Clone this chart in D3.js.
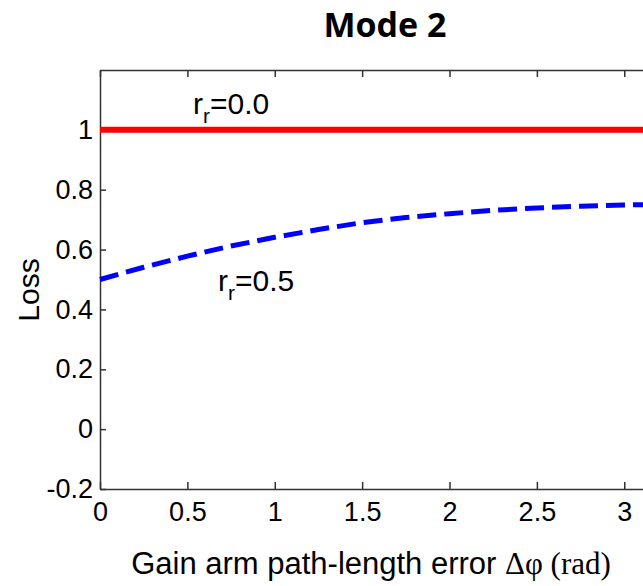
<!doctype html>
<html lang="en">
<head>
<meta charset="UTF-8">
<title>Mode 2</title>
<style>
  body { margin: 0; background: #fff; }
  svg { display: block; font-family: "Liberation Sans", Arial, sans-serif; }
  .axis path, .axis line { stroke: #333; stroke-width: 1.5; }
  .axis text { font-size: 27px; fill: #000; font-family: "Liberation Sans", Arial, sans-serif; }
</style>
</head>
<body>
<svg id="chart" width="643" height="586"></svg>
<script src="https://d3js.org/d3.v7.min.js"></script>
<script>
// data
var xTicks = [0, 0.5, 1, 1.5, 2, 2.5, 3];
var yTicks = [-0.2, 0, 0.2, 0.4, 0.6, 0.8, 1];

var phaseErr = [0, 0.25, 0.5, 0.75, 1, 1.25, 1.5, 1.75, 2, 2.25, 2.5, 2.75, 3, Math.PI];
var lossR00 = [1, 1, 1, 1, 1, 1, 1, 1, 1, 1, 1, 1, 1, 1];
var lossR05 = [0.50, 0.541, 0.578, 0.612, 0.641, 0.667, 0.690, 0.707, 0.720, 0.731, 0.739, 0.745, 0.749, 0.750];

var mLeft = 100, mTop = 70, mRight = 649, mBottom = 489;

var svg = d3.select("#chart");

var x = d3.scaleLinear().domain([0, Math.PI]).range([mLeft, mRight]);
var y = d3.scaleLinear().domain([-0.2, 1.2]).range([mBottom, mTop]);

var plain = function(d) { return String(d); };  // keep ascii hyphen for -0.2

// frame with ticks pointing inward on all sides
svg.append("g").attr("class", "axis")
    .attr("transform", "translate(0," + mBottom + ")")
    .call(d3.axisBottom(x).tickValues(xTicks).tickSizeInner(-7).tickSizeOuter(0).tickPadding(13).tickFormat(plain));
svg.append("g").attr("class", "axis")
    .attr("transform", "translate(0," + mTop + ")")
    .call(d3.axisTop(x).tickValues(xTicks).tickSizeInner(-7).tickSizeOuter(0).tickFormat(""));
var yAx = svg.append("g").attr("class", "axis")
    .attr("transform", "translate(" + mLeft + ",0)")
    .call(d3.axisLeft(y).tickValues(yTicks).tickSizeInner(-6).tickSizeOuter(0).tickPadding(7).tickFormat(plain));
svg.append("g").attr("class", "axis")
    .attr("transform", "translate(" + mRight + ",0)")
    .call(d3.axisRight(y).tickValues(yTicks).tickSizeInner(-6).tickSizeOuter(0).tickFormat(""));

svg.selectAll(".axis .domain").attr("fill", "none");

var line = d3.line()
    .x(function(d) { return x(d[0]); })
    .y(function(d) { return y(d[1]); });

svg.append("path")
    .datum(d3.zip(phaseErr, lossR00))
    .attr("fill", "none")
    .attr("stroke", "#ff0000")
    .attr("stroke-width", 6)
    .attr("d", line);

svg.append("path")
    .datum(d3.zip(phaseErr, lossR05))
    .attr("fill", "none")
    .attr("stroke", "#0000ff")
    .attr("stroke-width", 5)
    .attr("stroke-dasharray", "19,8")
    .attr("d", line);

// annotations
function label(px, py, val) {
  var t = svg.append("text").attr("x", px).attr("y", py).attr("font-size", 30);
  t.append("tspan").text("r");
  t.append("tspan").attr("font-size", 21).attr("dy", 9).text("r");
  t.append("tspan").attr("dy", -9).text("=" + val);
}
label(193, 114, "0.0");
label(218, 291, "0.5");

// title
svg.append("text")
    .attr("x", 385).attr("y", 37)
    .attr("text-anchor", "middle")
    .attr("font-family", "'Open Sans', sans-serif")
    .attr("font-weight", "bold")
    .attr("font-size", 34)
    .text("Mode 2");

// axis titles
var xl = svg.append("text")
    .attr("x", 371).attr("y", 574)
    .attr("text-anchor", "middle")
    .attr("font-size", 31);
xl.append("tspan").text("Gain arm path-length error ");
xl.append("tspan").attr("font-family", "'Liberation Serif', 'Times New Roman', serif").text("\u0394\u03c6 (rad)");

svg.append("text")
    .attr("transform", "translate(39,290) rotate(-90)")
    .attr("text-anchor", "middle")
    .attr("font-size", 30)
    .text("Loss");
</script>
</body>
</html>
